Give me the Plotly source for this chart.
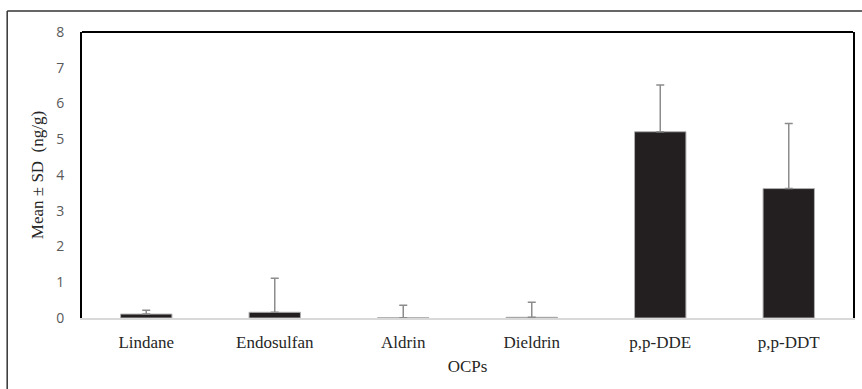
import plotly.graph_objects as go

categories = ["Lindane", "Endosulfan", "Aldrin", "Dieldrin", "p,p-DDE", "p,p-DDT"]
means = [0.11, 0.16, 0.005, 0.02, 5.21, 3.62]
sds = [0.11, 0.95, 0.35, 0.42, 1.31, 1.82]
y_ticks = [0, 1, 2, 3, 4, 5, 6, 7, 8]

W, H = 862, 389
ml, mr, mt, mb = 82, 7, 32, 71
pw, ph = W - ml - mr, H - mt - mb

fig = go.Figure()
fig.add_trace(go.Bar(
    x=categories, y=means,
    marker=dict(color="#231f20", line=dict(color="#b0b0b0", width=1)),
    error_y=dict(type="data", symmetric=False, array=sds, arrayminus=[0] * len(sds),
                 color="#8c8c8c", thickness=1.5, width=4),
))

serif = "Liberation Serif"
fig.update_layout(
    width=W, height=H,
    margin=dict(l=ml, r=mr, t=mt, b=mb),
    paper_bgcolor="white", plot_bgcolor="white",
    bargap=0.6, showlegend=False,
    xaxis=dict(
        showline=True, linecolor="#d9d9d9", linewidth=2,
        showgrid=False, ticks="outside", ticklen=8, tickcolor="rgba(0,0,0,0)",
        tickfont=dict(family=serif, size=17, color="#262626"),
        title=dict(text="OCPs", font=dict(family=serif, size=17, color="#262626"), standoff=9),
    ),
    yaxis=dict(
        range=[0, 8], tickvals=y_ticks,
        showline=True, linecolor="black", linewidth=2, mirror=True,
        showgrid=False, zeroline=False,
        ticks="outside", ticklen=13, tickcolor="rgba(0,0,0,0)",
        tickfont=dict(family="Open Sans", size=14, color="#595959"),
        title=dict(text="Mean ± SD  (ng/g)", font=dict(family=serif, size=17, color="#262626"), standoff=8),
    ),
    shapes=[
        dict(type="line", xref="paper", yref="paper", x0=0, x1=1, y0=1, y1=1,
             line=dict(color="black", width=2)),
        dict(type="line", xref="paper", yref="paper",
             x0=(7 - ml) / pw, x1=(7 - ml) / pw, y0=(ph + mt - 11) / ph, y1=-(mb + 2) / ph,
             line=dict(color="#333333", width=1.5)),
        dict(type="line", xref="paper", yref="paper",
             x0=(7 - ml) / pw, x1=(W + 2 - ml) / pw, y0=(ph + mt - 11) / ph, y1=(ph + mt - 11) / ph,
             line=dict(color="#333333", width=1.5)),
    ],
)

fig.write_html("out.html")
